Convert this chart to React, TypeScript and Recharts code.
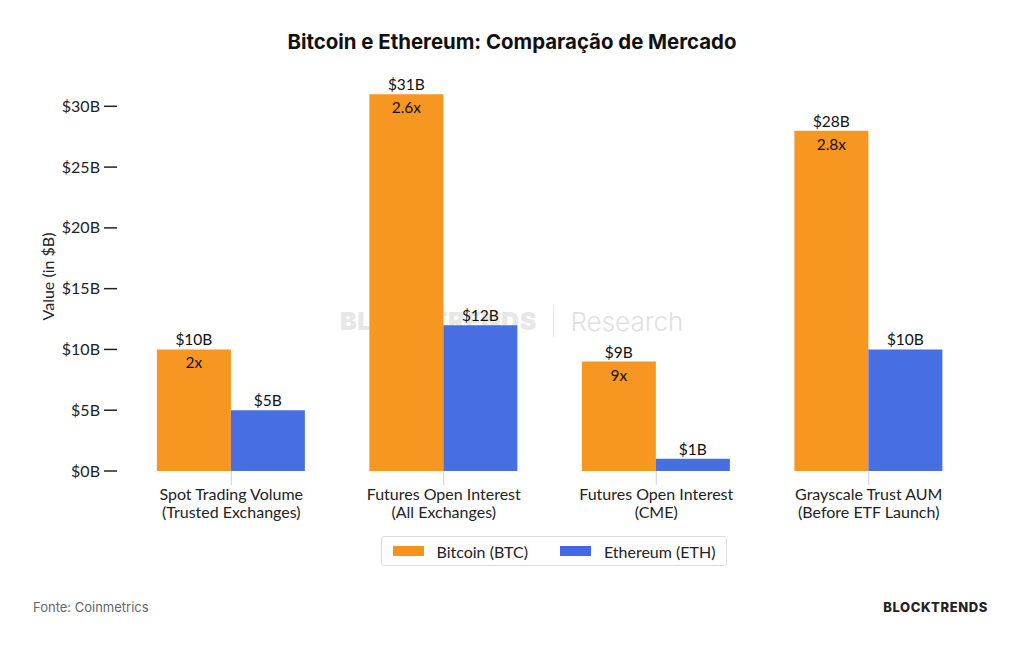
import React from 'react';
import { BarChart, Bar, XAxis, YAxis, Legend, LabelList } from 'recharts';

const categoryTop = ['Spot Trading Volume', 'Futures Open Interest', 'Futures Open Interest', 'Grayscale Trust AUM'];
const categoryBottom = ['(Trusted Exchanges)', '(All Exchanges)', '(CME)', '(Before ETF Launch)'];
const btcValues = [10, 31, 9, 28];
const ethValues = [5, 12, 1, 10];
const ratioLabels = ['2x', '2.6x', '9x', '2.8x'];
const yTicks = [0, 5, 10, 15, 20, 25, 30];

const BTC_COLOR = '#F7931A';
const ETH_COLOR = '#4169E1';
const FONT = 'Lato, "Open Sans", sans-serif';

const data = categoryTop.map((name, i) => ({
  name,
  sub: categoryBottom[i],
  btc: btcValues[i],
  eth: ethValues[i],
  ratio: ratioLabels[i],
}));

const XTick = (props: any) => {
  const { x, y, index } = props;
  return (
    <g>
      <text x={x} y={y + 15} textAnchor="middle" fontFamily={FONT} fontSize={16} fill="#222">
        {categoryTop[index]}
      </text>
      <text x={x} y={y + 33} textAnchor="middle" fontFamily={FONT} fontSize={16} fill="#222">
        {categoryBottom[index]}
      </text>
    </g>
  );
};

const YTick = (props: any) => {
  const { x, y, payload } = props;
  return (
    <g>
      <line x1={x - 21} x2={x - 8} y1={y} y2={y} stroke="#222" strokeWidth={1.5} />
      <text x={x - 25} y={y + 5.5} textAnchor="end" fontFamily={FONT} fontSize={16} fill="#222">
        {`$${payload.value}B`}
      </text>
    </g>
  );
};

const YLabel = (props: any) => {
  const vb = props.viewBox || { x: 0, y: 0, height: 0 };
  const cx = 50;
  const cy = vb.y + vb.height / 2;
  return (
    <text
      x={cx}
      y={cy}
      transform={`rotate(-90, ${cx}, ${cy})`}
      textAnchor="middle"
      dominantBaseline="middle"
      fontFamily={FONT}
      fontSize={16}
      fill="#222"
    >
      Value (in $B)
    </text>
  );
};

const LegendBox = () => (
  <div
    style={{
      border: '1.5px solid #ddd',
      borderRadius: 3,
      height: 30,
      boxSizing: 'border-box',
      display: 'flex',
      alignItems: 'center',
      justifyContent: 'center',
      gap: 32,
      fontFamily: FONT,
      fontSize: 16,
      color: '#222',
    }}
  >
    <span style={{ display: 'flex', alignItems: 'center' }}>
      <span style={{ width: 31, height: 10, background: BTC_COLOR, marginRight: 13 }} />
      Bitcoin (BTC)
    </span>
    <span style={{ display: 'flex', alignItems: 'center' }}>
      <span style={{ width: 31, height: 10, background: ETH_COLOR, marginRight: 13 }} />
      Ethereum (ETH)
    </span>
  </div>
);

export default function App() {
  return (
    <div style={{ position: 'absolute', left: 0, top: 0, width: 1024, height: 645, background: '#fff', overflow: 'hidden' }}>
      <div
        style={{
          position: 'absolute',
          top: 29,
          width: 1024,
          textAlign: 'center',
          fontFamily: 'Inter, sans-serif',
          fontWeight: 700,
          fontSize: 20.4,
          color: '#111',
        }}
      >
        Bitcoin e Ethereum: Comparação de Mercado
      </div>

      <div style={{ position: 'absolute', left: 340, top: 305, display: 'flex', alignItems: 'center', pointerEvents: 'none', opacity: 0.55 }}>
        <span style={{ fontFamily: 'Inter, sans-serif', fontWeight: 900, fontSize: 25, color: '#d4d4d4', letterSpacing: 0.6 }}>
          BLOCKTRENDS
        </span>
        <span style={{ width: 1.5, height: 32, background: '#d4d4d4', margin: '0 16px' }} />
        <span style={{ fontFamily: 'Inter, sans-serif', fontWeight: 300, fontSize: 26, color: '#c8c8c8' }}>Research</span>
      </div>

      <div style={{ position: 'absolute', left: 0, top: 0 }}>
        <BarChart
          width={1024}
          height={645}
          data={data}
          margin={{ top: 82, right: 49, bottom: 114, left: 0 }}
          barCategoryGap="15%"
          barGap={0}
        >
          <XAxis
            dataKey="name"
            axisLine={false}
            tickLine={{ stroke: '#c9d0df' }}
            tickSize={14}
            tickMargin={0}
            tick={<XTick />}
            interval={0}
          />
          <YAxis
            width={125}
            domain={[0, 32]}
            ticks={yTicks}
            axisLine={false}
            tickLine={false}
            tickSize={0}
            tickMargin={0}
            tick={<YTick />}
            label={<YLabel />}
          />
          <Legend
            content={<LegendBox />}
            wrapperStyle={{ left: 381, top: 536, width: 346, height: 30, bottom: 'auto' }}
          />
          <Bar dataKey="btc" name="Bitcoin (BTC)" fill={BTC_COLOR} fillOpacity={0.97} isAnimationActive={false}>
            <LabelList
              dataKey="btc"
              position="top"
              offset={4}
              formatter={(v: any) => `$${v}B`}
              style={{ fontFamily: FONT, fontSize: 15.5, fill: '#111' }}
            />
            <LabelList
              dataKey="ratio"
              position="insideTop"
              offset={8}
              style={{ fontFamily: FONT, fontSize: 15.5, fill: '#111' }}
            />
          </Bar>
          <Bar dataKey="eth" name="Ethereum (ETH)" fill={ETH_COLOR} fillOpacity={0.97} isAnimationActive={false}>
            <LabelList
              dataKey="eth"
              position="top"
              offset={4}
              formatter={(v: any) => `$${v}B`}
              style={{ fontFamily: FONT, fontSize: 15.5, fill: '#111' }}
            />
          </Bar>
        </BarChart>
      </div>

      <div style={{ position: 'absolute', left: 33, top: 599, fontFamily: 'Inter, sans-serif', fontSize: 13, color: '#666' }}>
        Fonte: Coinmetrics
      </div>
      <div
        style={{
          position: 'absolute',
          right: 36,
          top: 599,
          fontFamily: 'Inter, sans-serif',
          fontWeight: 800,
          fontSize: 13,
          color: '#222',
          letterSpacing: 0.6,
        }}
      >
        BLOCKTRENDS
      </div>
    </div>
  );
}
